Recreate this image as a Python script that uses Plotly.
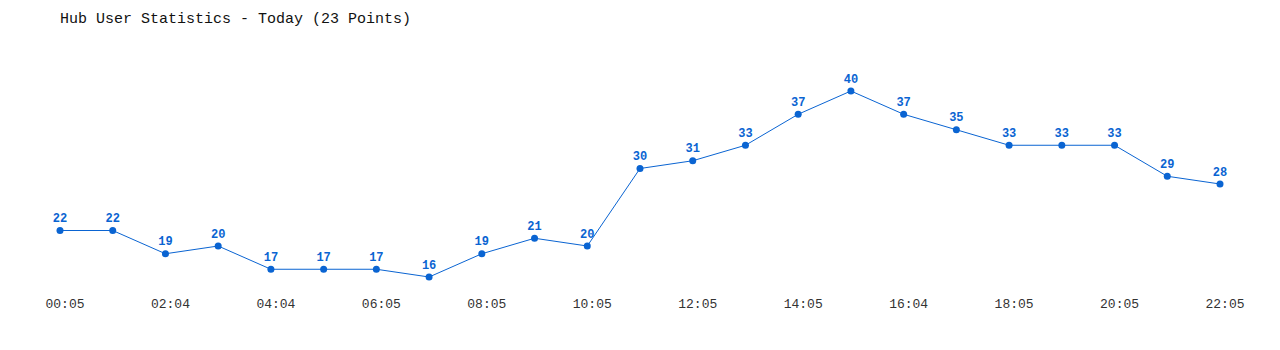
import plotly.graph_objects as go

times = ["00:05", "01:05", "02:04", "03:05", "04:04", "05:05", "06:05", "07:05",
         "08:05", "09:05", "10:05", "11:05", "12:05", "13:05", "14:05", "15:05",
         "16:04", "17:05", "18:05", "19:05", "20:05", "21:05", "22:05"]
users = [22, 22, 19, 20, 17, 17, 17, 16, 19, 21, 20, 30, 31, 33, 37, 40, 37, 35, 33, 33, 33, 29, 28]
tick_labels = times[::2]

color = "#0a64d2"
idx = list(range(len(times)))

fig = go.Figure(go.Scatter(
    x=idx, y=users, mode="lines+markers+text",
    line=dict(color=color, width=1),
    marker=dict(color=color, size=7),
    text=[str(v) for v in users], textposition="top center",
    textfont=dict(family="Liberation Mono", size=12, color=color, weight="bold"),
    cliponaxis=False, hoverinfo="x+y",
))

fig.update_layout(
    width=1280, height=350,
    paper_bgcolor="white", plot_bgcolor="white",
    margin=dict(l=60, r=60, t=91, b=58),
    showlegend=False,
    title=dict(text="Hub User Statistics - Today (23 Points)",
               x=60 / 1280, xref="container", xanchor="left",
               y=1 - 18 / 350, yref="container", yanchor="middle",
               font=dict(family="Liberation Mono", size=15, color="#111")),
    xaxis=dict(range=[0, 22], tickvals=idx[::2], ticktext=tick_labels,
               showgrid=False, zeroline=False, showline=False, ticks="",
               ticklabelshift=5, ticklabelstandoff=2,
               tickfont=dict(family="Liberation Mono", size=13, color="#333")),
    yaxis=dict(range=[16 - 15 / 7.75, 40], visible=False),
)

fig.write_html("out.html")
